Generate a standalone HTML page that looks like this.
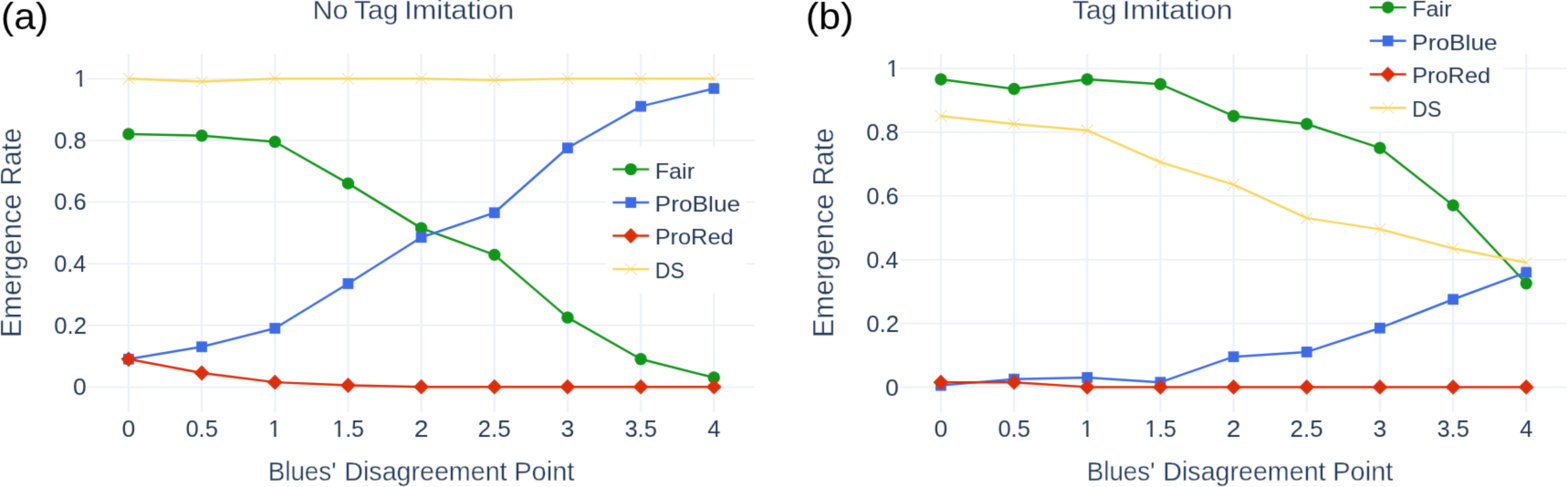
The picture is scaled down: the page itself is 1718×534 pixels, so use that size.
<!DOCTYPE html>
<html lang="en"><head><meta charset="utf-8"><title>Emergence Rate vs Blues' Disagreement Point</title>
<style>
html,body{margin:0;padding:0;background:#fff;overflow:hidden}
body{width:1718px;height:534px}
svg{display:block;font-family:"Liberation Sans", sans-serif}
text{white-space:pre}
.t{stroke:none}
.h{stroke:#fff;stroke-width:0.3px}
</style></head><body>
<svg width="1718" height="534" viewBox="0 0 1718 534">
<defs><filter id="soft" filterUnits="userSpaceOnUse" x="0" y="0" width="1718" height="534" color-interpolation-filters="sRGB"><feConvolveMatrix order="3" kernelMatrix="1 5 1 5 25 5 1 5 1" divisor="49" edgeMode="duplicate" preserveAlpha="false"/></filter></defs>
<g filter="url(#soft)">
<rect x="-2" y="-2" width="1722" height="538" fill="#fff"/>
<g transform="translate(0 0)">
<path d="M96 424.4H826.9M96 356.8H826.9M96 289.2H826.9M96 221.6H826.9M96 154H826.9M96 86.4H826.9" stroke="#E8EDF7" stroke-width="1.5" fill="none"/>
<path d="M140.9 59.2V451.4M221.07 59.2V451.4M301.24 59.2V451.4M381.41 59.2V451.4M461.58 59.2V451.4M541.75 59.2V451.4M621.92 59.2V451.4M702.09 59.2V451.4M782.26 59.2V451.4" stroke="#ECF0F9" stroke-width="2.3" fill="none"/>
<polyline points="140.9,147.04 221.07,148.73 301.24,155.49 381.41,201.12 461.58,250.13 541.75,279.37 621.92,348.15 702.09,393.78 782.26,414.06" fill="none" stroke="#109618" stroke-width="2.45" stroke-linejoin="round"/>
<circle cx="140.9" cy="147.04" r="6.7" fill="#109618"/>
<circle cx="221.07" cy="148.73" r="6.7" fill="#109618"/>
<circle cx="301.24" cy="155.49" r="6.7" fill="#109618"/>
<circle cx="381.41" cy="201.12" r="6.7" fill="#109618"/>
<circle cx="461.58" cy="250.13" r="6.7" fill="#109618"/>
<circle cx="541.75" cy="279.37" r="6.7" fill="#109618"/>
<circle cx="621.92" cy="348.15" r="6.7" fill="#109618"/>
<circle cx="702.09" cy="393.78" r="6.7" fill="#109618"/>
<circle cx="782.26" cy="414.06" r="6.7" fill="#109618"/>
<polyline points="140.9,393.78 221.07,380.26 301.24,359.98 381.41,310.97 461.58,260.27 541.75,233.23 621.92,162.25 702.09,116.62 782.26,97.02" fill="none" stroke="#3D6BE8" stroke-width="2.45" stroke-linejoin="round"/>
<rect x="135" y="387.88" width="11.8" height="11.8" fill="#3D6BE8"/>
<rect x="215.17" y="374.36" width="11.8" height="11.8" fill="#3D6BE8"/>
<rect x="295.34" y="354.08" width="11.8" height="11.8" fill="#3D6BE8"/>
<rect x="375.51" y="305.07" width="11.8" height="11.8" fill="#3D6BE8"/>
<rect x="455.68" y="254.37" width="11.8" height="11.8" fill="#3D6BE8"/>
<rect x="535.85" y="227.33" width="11.8" height="11.8" fill="#3D6BE8"/>
<rect x="616.02" y="156.35" width="11.8" height="11.8" fill="#3D6BE8"/>
<rect x="696.19" y="110.72" width="11.8" height="11.8" fill="#3D6BE8"/>
<rect x="776.36" y="91.12" width="11.8" height="11.8" fill="#3D6BE8"/>
<polyline points="140.9,393.78 221.07,408.99 301.24,419.13 381.41,422.51 461.58,424.2 541.75,424.2 621.92,424.2 702.09,424.2 782.26,424.2" fill="none" stroke="#DE2D0A" stroke-width="2.45" stroke-linejoin="round"/>
<path d="M132.5 393.78L140.9 385.38L149.3 393.78L140.9 402.18Z" fill="#DE2D0A"/>
<path d="M212.67 408.99L221.07 400.59L229.47 408.99L221.07 417.39Z" fill="#DE2D0A"/>
<path d="M292.84 419.13L301.24 410.73L309.64 419.13L301.24 427.53Z" fill="#DE2D0A"/>
<path d="M373.01 422.51L381.41 414.11L389.81 422.51L381.41 430.91Z" fill="#DE2D0A"/>
<path d="M453.18 424.2L461.58 415.8L469.98 424.2L461.58 432.6Z" fill="#DE2D0A"/>
<path d="M533.35 424.2L541.75 415.8L550.15 424.2L541.75 432.6Z" fill="#DE2D0A"/>
<path d="M613.52 424.2L621.92 415.8L630.32 424.2L621.92 432.6Z" fill="#DE2D0A"/>
<path d="M693.69 424.2L702.09 415.8L710.49 424.2L702.09 432.6Z" fill="#DE2D0A"/>
<path d="M773.86 424.2L782.26 415.8L790.66 424.2L782.26 432.6Z" fill="#DE2D0A"/>
<polyline points="140.9,86.2 221.07,89.58 301.24,86.2 381.41,86.2 461.58,86.2 541.75,87.89 621.92,86.2 702.09,86.2 782.26,86.2" fill="none" stroke="#FAD65C" stroke-width="2.45" stroke-linejoin="round"/>
<path d="M134.6 79.9L147.2 92.5M134.6 92.5L147.2 79.9" stroke="#FAD65C" stroke-width="1.0" fill="none"/>
<path d="M214.77 83.28L227.37 95.88M214.77 95.88L227.37 83.28" stroke="#FAD65C" stroke-width="1.0" fill="none"/>
<path d="M294.94 79.9L307.54 92.5M294.94 92.5L307.54 79.9" stroke="#FAD65C" stroke-width="1.0" fill="none"/>
<path d="M375.11 79.9L387.71 92.5M375.11 92.5L387.71 79.9" stroke="#FAD65C" stroke-width="1.0" fill="none"/>
<path d="M455.28 79.9L467.88 92.5M455.28 92.5L467.88 79.9" stroke="#FAD65C" stroke-width="1.0" fill="none"/>
<path d="M535.45 81.59L548.05 94.19M535.45 94.19L548.05 81.59" stroke="#FAD65C" stroke-width="1.0" fill="none"/>
<path d="M615.62 79.9L628.22 92.5M615.62 92.5L628.22 79.9" stroke="#FAD65C" stroke-width="1.0" fill="none"/>
<path d="M695.79 79.9L708.39 92.5M695.79 92.5L708.39 79.9" stroke="#FAD65C" stroke-width="1.0" fill="none"/>
<path d="M775.96 79.9L788.56 92.5M775.96 92.5L788.56 79.9" stroke="#FAD65C" stroke-width="1.0" fill="none"/>
<rect x="663.6" y="160.7" width="153.9" height="160.8" fill="#fff"/>
<path d="M671.3 185.6H711.2" stroke="#109618" stroke-width="2.45"/>
<circle cx="691.2" cy="185.6" r="6.7" fill="#109618"/>
<path d="M671.3 222.05H711.2" stroke="#3D6BE8" stroke-width="2.45"/>
<rect x="685.3" y="216.15" width="11.8" height="11.8" fill="#3D6BE8"/>
<path d="M671.3 258.5H711.2" stroke="#DE2D0A" stroke-width="2.45"/>
<path d="M682.8 258.5L691.2 250.1L699.6 258.5L691.2 266.9Z" fill="#DE2D0A"/>
<path d="M671.3 294.95H711.2" stroke="#FAD65C" stroke-width="2.45"/>
<path d="M684.9 288.65L697.5 301.25M684.9 301.25L697.5 288.65" stroke="#FAD65C" stroke-width="1.0" fill="none"/>
</g>
<g transform="translate(890 0)">
<path d="M96 424.6H826.8M96 354.68H826.8M96 284.76H826.8M96 214.84H826.8M96 144.92H826.8M96 75H826.8" stroke="#E8EDF7" stroke-width="1.5" fill="none"/>
<path d="M140.9 59.2V451.4M221.07 59.2V451.4M301.24 59.2V451.4M381.41 59.2V451.4M461.58 59.2V451.4M541.75 59.2V451.4M621.92 59.2V451.4M702.09 59.2V451.4M782.26 59.2V451.4" stroke="#ECF0F9" stroke-width="2.3" fill="none"/>
<polyline points="140.9,87.04 221.07,97.52 301.24,87.04 381.41,92.28 461.58,127.24 541.75,135.98 621.92,162.2 702.09,225.13 782.26,310.78" fill="none" stroke="#109618" stroke-width="2.45" stroke-linejoin="round"/>
<circle cx="140.9" cy="87.04" r="6.7" fill="#109618"/>
<circle cx="221.07" cy="97.52" r="6.7" fill="#109618"/>
<circle cx="301.24" cy="87.04" r="6.7" fill="#109618"/>
<circle cx="381.41" cy="92.28" r="6.7" fill="#109618"/>
<circle cx="461.58" cy="127.24" r="6.7" fill="#109618"/>
<circle cx="541.75" cy="135.98" r="6.7" fill="#109618"/>
<circle cx="621.92" cy="162.2" r="6.7" fill="#109618"/>
<circle cx="702.09" cy="225.13" r="6.7" fill="#109618"/>
<circle cx="782.26" cy="310.78" r="6.7" fill="#109618"/>
<polyline points="140.9,422.65 221.07,415.66 301.24,413.91 381.41,419.16 461.58,391.19 541.75,385.94 621.92,359.72 702.09,328.26 782.26,298.54" fill="none" stroke="#3D6BE8" stroke-width="2.45" stroke-linejoin="round"/>
<rect x="135" y="416.75" width="11.8" height="11.8" fill="#3D6BE8"/>
<rect x="215.17" y="409.76" width="11.8" height="11.8" fill="#3D6BE8"/>
<rect x="295.34" y="408.01" width="11.8" height="11.8" fill="#3D6BE8"/>
<rect x="375.51" y="413.26" width="11.8" height="11.8" fill="#3D6BE8"/>
<rect x="455.68" y="385.29" width="11.8" height="11.8" fill="#3D6BE8"/>
<rect x="535.85" y="380.04" width="11.8" height="11.8" fill="#3D6BE8"/>
<rect x="616.02" y="353.82" width="11.8" height="11.8" fill="#3D6BE8"/>
<rect x="696.19" y="322.36" width="11.8" height="11.8" fill="#3D6BE8"/>
<rect x="776.36" y="292.64" width="11.8" height="11.8" fill="#3D6BE8"/>
<polyline points="140.9,419.16 221.07,419.16 301.24,424.4 381.41,424.4 461.58,424.4 541.75,424.4 621.92,424.4 702.09,424.4 782.26,424.4" fill="none" stroke="#DE2D0A" stroke-width="2.45" stroke-linejoin="round"/>
<path d="M132.5 419.16L140.9 410.76L149.3 419.16L140.9 427.56Z" fill="#DE2D0A"/>
<path d="M212.67 419.16L221.07 410.76L229.47 419.16L221.07 427.56Z" fill="#DE2D0A"/>
<path d="M292.84 424.4L301.24 416L309.64 424.4L301.24 432.8Z" fill="#DE2D0A"/>
<path d="M373.01 424.4L381.41 416L389.81 424.4L381.41 432.8Z" fill="#DE2D0A"/>
<path d="M453.18 424.4L461.58 416L469.98 424.4L461.58 432.8Z" fill="#DE2D0A"/>
<path d="M533.35 424.4L541.75 416L550.15 424.4L541.75 432.8Z" fill="#DE2D0A"/>
<path d="M613.52 424.4L621.92 416L630.32 424.4L621.92 432.8Z" fill="#DE2D0A"/>
<path d="M693.69 424.4L702.09 416L710.49 424.4L702.09 432.8Z" fill="#DE2D0A"/>
<path d="M773.86 424.4L782.26 416L790.66 424.4L782.26 432.8Z" fill="#DE2D0A"/>
<polyline points="140.9,127.24 221.07,135.98 301.24,142.97 381.41,177.93 461.58,202.4 541.75,239.11 621.92,251.35 702.09,272.32 782.26,288.06" fill="none" stroke="#FAD65C" stroke-width="2.45" stroke-linejoin="round"/>
<path d="M134.6 120.94L147.2 133.54M134.6 133.54L147.2 120.94" stroke="#FAD65C" stroke-width="1.0" fill="none"/>
<path d="M214.77 129.68L227.37 142.28M214.77 142.28L227.37 129.68" stroke="#FAD65C" stroke-width="1.0" fill="none"/>
<path d="M294.94 136.67L307.54 149.27M294.94 149.27L307.54 136.67" stroke="#FAD65C" stroke-width="1.0" fill="none"/>
<path d="M375.11 171.63L387.71 184.23M375.11 184.23L387.71 171.63" stroke="#FAD65C" stroke-width="1.0" fill="none"/>
<path d="M455.28 196.1L467.88 208.7M455.28 208.7L467.88 196.1" stroke="#FAD65C" stroke-width="1.0" fill="none"/>
<path d="M535.45 232.81L548.05 245.41M535.45 245.41L548.05 232.81" stroke="#FAD65C" stroke-width="1.0" fill="none"/>
<path d="M615.62 245.05L628.22 257.65M615.62 257.65L628.22 245.05" stroke="#FAD65C" stroke-width="1.0" fill="none"/>
<path d="M695.79 266.02L708.39 278.62M695.79 278.62L708.39 266.02" stroke="#FAD65C" stroke-width="1.0" fill="none"/>
<path d="M775.96 281.76L788.56 294.36M775.96 294.36L788.56 281.76" stroke="#FAD65C" stroke-width="1.0" fill="none"/>
<rect x="603.1" y="-16.8" width="153.9" height="160.8" fill="#fff"/>
<path d="M610.8 8.1H650.7" stroke="#109618" stroke-width="2.45"/>
<circle cx="630.7" cy="8.1" r="6.7" fill="#109618"/>
<path d="M610.8 44.8H650.7" stroke="#3D6BE8" stroke-width="2.45"/>
<rect x="624.8" y="38.9" width="11.8" height="11.8" fill="#3D6BE8"/>
<path d="M610.8 81.5H650.7" stroke="#DE2D0A" stroke-width="2.45"/>
<path d="M622.3 81.5L630.7 73.1L639.1 81.5L630.7 89.9Z" fill="#DE2D0A"/>
<path d="M610.8 118.2H650.7" stroke="#FAD65C" stroke-width="2.45"/>
<path d="M624.4 111.9L637 124.5M624.4 124.5L637 111.9" stroke="#FAD65C" stroke-width="1.0" fill="none"/>
</g>
<text class="t" y="195.5" font-size="24" fill="#21375a"><tspan x="717.68" textLength="43.45" lengthAdjust="spacingAndGlyphs">Fair</tspan></text>
<text class="t" y="231.95" font-size="24" fill="#21375a"><tspan x="717.59" textLength="93.66" lengthAdjust="spacingAndGlyphs">ProBlue</tspan></text>
<text class="t" y="268.4" font-size="24" fill="#21375a"><tspan x="717.67" textLength="85.95" lengthAdjust="spacingAndGlyphs">ProRed</tspan></text>
<text class="t" y="304.85" font-size="24" fill="#21375a"><tspan x="717.85" textLength="32.1" lengthAdjust="spacingAndGlyphs">DS</tspan></text>
<text class="t" y="479.2" font-size="25" fill="#21375a"><tspan x="133.6" textLength="14.76" lengthAdjust="spacingAndGlyphs">0</tspan></text>
<text class="t" y="479.2" font-size="25" fill="#21375a"><tspan x="203.4" textLength="35.49" lengthAdjust="spacingAndGlyphs">0.5</tspan></text>
<text class="t" y="479.2" font-size="25" fill="#21375a"><tspan x="294.04" textLength="13.9" lengthAdjust="spacingAndGlyphs">1</tspan></text>
<text class="t" y="479.2" font-size="25" fill="#21375a"><tspan x="364.26" textLength="34.75" lengthAdjust="spacingAndGlyphs">1.5</tspan></text>
<text class="t" y="479.2" font-size="25" fill="#21375a"><tspan x="453.67" textLength="15.72" lengthAdjust="spacingAndGlyphs">2</tspan></text>
<text class="t" y="479.2" font-size="25" fill="#21375a"><tspan x="523.55" textLength="36.03" lengthAdjust="spacingAndGlyphs">2.5</tspan></text>
<text class="t" y="479.2" font-size="25" fill="#21375a"><tspan x="614.62" textLength="14.76" lengthAdjust="spacingAndGlyphs">3</tspan></text>
<text class="t" y="479.2" font-size="25" fill="#21375a"><tspan x="684.42" textLength="35.49" lengthAdjust="spacingAndGlyphs">3.5</tspan></text>
<text class="t" y="479.2" font-size="25" fill="#21375a"><tspan x="775.25" textLength="14.18" lengthAdjust="spacingAndGlyphs">4</tspan></text>
<text class="t" y="433.1" font-size="25" fill="#21375a"><tspan x="80" textLength="14.76" lengthAdjust="spacingAndGlyphs">0</tspan></text>
<text class="t" y="365.5" font-size="25" fill="#21375a"><tspan x="59.23" textLength="35.76" lengthAdjust="spacingAndGlyphs">0.2</tspan></text>
<text class="t" y="297.9" font-size="25" fill="#21375a"><tspan x="59.24" textLength="35.22" lengthAdjust="spacingAndGlyphs">0.4</tspan></text>
<text class="t" y="230.3" font-size="25" fill="#21375a"><tspan x="59.23" textLength="35.49" lengthAdjust="spacingAndGlyphs">0.6</tspan></text>
<text class="t" y="162.7" font-size="25" fill="#21375a"><tspan x="59.23" textLength="35.49" lengthAdjust="spacingAndGlyphs">0.8</tspan></text>
<text class="t" y="95.1" font-size="25" fill="#21375a"><tspan x="81.35" textLength="13.9" lengthAdjust="spacingAndGlyphs">1</tspan></text>
<text class="t" y="18" font-size="24" fill="#21375a"><tspan x="1547.18" textLength="43.45" lengthAdjust="spacingAndGlyphs">Fair</tspan></text>
<text class="t" y="54.7" font-size="24" fill="#21375a"><tspan x="1547.09" textLength="93.66" lengthAdjust="spacingAndGlyphs">ProBlue</tspan></text>
<text class="t" y="91.4" font-size="24" fill="#21375a"><tspan x="1547.17" textLength="85.95" lengthAdjust="spacingAndGlyphs">ProRed</tspan></text>
<text class="t" y="128.1" font-size="24" fill="#21375a"><tspan x="1547.35" textLength="32.1" lengthAdjust="spacingAndGlyphs">DS</tspan></text>
<text class="t" y="479.2" font-size="25" fill="#21375a"><tspan x="1023.6" textLength="14.76" lengthAdjust="spacingAndGlyphs">0</tspan></text>
<text class="t" y="479.2" font-size="25" fill="#21375a"><tspan x="1093.4" textLength="35.49" lengthAdjust="spacingAndGlyphs">0.5</tspan></text>
<text class="t" y="479.2" font-size="25" fill="#21375a"><tspan x="1184.04" textLength="13.9" lengthAdjust="spacingAndGlyphs">1</tspan></text>
<text class="t" y="479.2" font-size="25" fill="#21375a"><tspan x="1254.26" textLength="34.75" lengthAdjust="spacingAndGlyphs">1.5</tspan></text>
<text class="t" y="479.2" font-size="25" fill="#21375a"><tspan x="1343.67" textLength="15.72" lengthAdjust="spacingAndGlyphs">2</tspan></text>
<text class="t" y="479.2" font-size="25" fill="#21375a"><tspan x="1413.55" textLength="36.03" lengthAdjust="spacingAndGlyphs">2.5</tspan></text>
<text class="t" y="479.2" font-size="25" fill="#21375a"><tspan x="1504.62" textLength="14.76" lengthAdjust="spacingAndGlyphs">3</tspan></text>
<text class="t" y="479.2" font-size="25" fill="#21375a"><tspan x="1574.42" textLength="35.49" lengthAdjust="spacingAndGlyphs">3.5</tspan></text>
<text class="t" y="479.2" font-size="25" fill="#21375a"><tspan x="1665.25" textLength="14.18" lengthAdjust="spacingAndGlyphs">4</tspan></text>
<text class="t" y="433.8" font-size="25" fill="#21375a"><tspan x="970" textLength="14.76" lengthAdjust="spacingAndGlyphs">0</tspan></text>
<text class="t" y="363.88" font-size="25" fill="#21375a"><tspan x="949.23" textLength="35.76" lengthAdjust="spacingAndGlyphs">0.2</tspan></text>
<text class="t" y="293.96" font-size="25" fill="#21375a"><tspan x="949.24" textLength="35.22" lengthAdjust="spacingAndGlyphs">0.4</tspan></text>
<text class="t" y="224.04" font-size="25" fill="#21375a"><tspan x="949.23" textLength="35.49" lengthAdjust="spacingAndGlyphs">0.6</tspan></text>
<text class="t" y="154.12" font-size="25" fill="#21375a"><tspan x="949.23" textLength="35.49" lengthAdjust="spacingAndGlyphs">0.8</tspan></text>
<text class="t" y="84.2" font-size="25" fill="#21375a"><tspan x="971.35" textLength="13.9" lengthAdjust="spacingAndGlyphs">1</tspan></text>
<text class="h" y="21.4" font-size="29.4" fill="#21375a"><tspan x="342.46" textLength="39.05" lengthAdjust="spacingAndGlyphs">No</tspan> <tspan x="387.9" textLength="48.6" lengthAdjust="spacingAndGlyphs">Tag</tspan> <tspan x="443.04" textLength="120.25" lengthAdjust="spacingAndGlyphs">Imitation</tspan></text>
<text class="h" y="21.4" font-size="29.4" fill="#21375a"><tspan x="1175" textLength="48.49" lengthAdjust="spacingAndGlyphs">Tag</tspan> <tspan x="1229.83" textLength="120.56" lengthAdjust="spacingAndGlyphs">Imitation</tspan></text>
<text class="h" y="526.6" font-size="29.2" fill="#21375a"><tspan x="293.68" textLength="74.86" lengthAdjust="spacingAndGlyphs">Blues&#39;</tspan> <tspan x="377.31" textLength="178.23" lengthAdjust="spacingAndGlyphs">Disagreement</tspan> <tspan x="563.28" textLength="66.06" lengthAdjust="spacingAndGlyphs">Point</tspan></text>
<text class="h" y="526.6" font-size="29.2" fill="#21375a"><tspan x="1190.68" textLength="74.86" lengthAdjust="spacingAndGlyphs">Blues&#39;</tspan> <tspan x="1274.31" textLength="178.23" lengthAdjust="spacingAndGlyphs">Disagreement</tspan> <tspan x="1460.28" textLength="66.06" lengthAdjust="spacingAndGlyphs">Point</tspan></text>
<text class="h" transform="translate(22.9 0) rotate(-90)" y="0" font-size="31" fill="#21375a"><tspan x="-370.37" textLength="157.78" lengthAdjust="spacingAndGlyphs">Emergence</tspan> <tspan x="-203.59" textLength="63.07" lengthAdjust="spacingAndGlyphs">Rate</tspan></text>
<text class="h" transform="translate(913 0) rotate(-90)" y="0" font-size="31" fill="#21375a"><tspan x="-370.37" textLength="157.78" lengthAdjust="spacingAndGlyphs">Emergence</tspan> <tspan x="-203.59" textLength="63.07" lengthAdjust="spacingAndGlyphs">Rate</tspan></text>
<text y="32" font-size="40.4" fill="#000"><tspan x="1.04" textLength="52.23" lengthAdjust="spacingAndGlyphs">(a)</tspan></text>
<text y="32" font-size="40.4" fill="#000"><tspan x="882.71" textLength="52.78" lengthAdjust="spacingAndGlyphs">(b)</tspan></text>
<path d="M295.04 477.07H300.25V479.8H295.04ZM302.64 477.07H307.54V479.8H302.64Z" fill="#fff"/>
<path d="M365.26 477.07H370.47V479.8H365.26ZM372.86 477.07H377.76V479.8H372.86Z" fill="#fff"/>
<path d="M82.35 92.97H87.56V95.7H82.35ZM89.95 92.97H94.85V95.7H89.95Z" fill="#fff"/>
<path d="M1185.04 477.07H1190.25V479.8H1185.04ZM1192.64 477.07H1197.54V479.8H1192.64Z" fill="#fff"/>
<path d="M1255.26 477.07H1260.47V479.8H1255.26ZM1262.86 477.07H1267.76V479.8H1262.86Z" fill="#fff"/>
<path d="M972.35 82.08H977.56V84.8H972.35ZM979.95 82.08H984.85V84.8H979.95Z" fill="#fff"/>
</g>
</svg>
</body></html>
